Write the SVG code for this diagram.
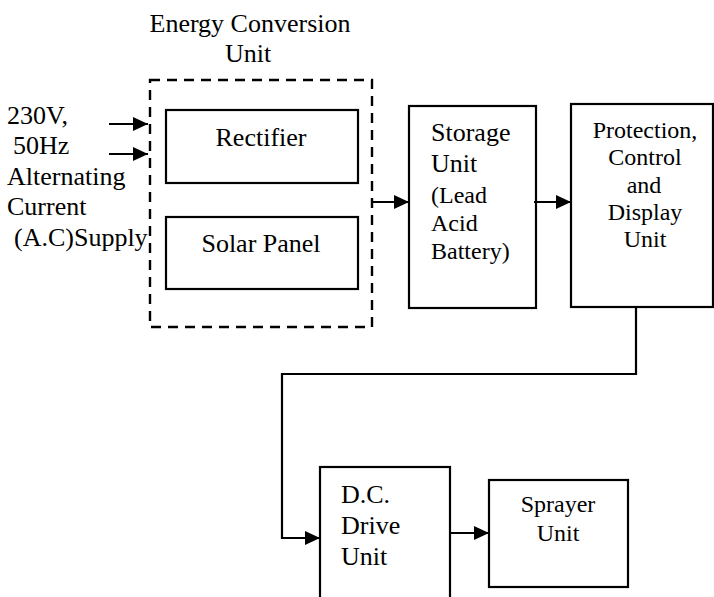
<svg xmlns="http://www.w3.org/2000/svg" width="714" height="597" viewBox="0 0 714 597">
<style>
.box{fill:none;stroke:#000;stroke-width:2.2}
.dash{fill:none;stroke:#000;stroke-width:2.4;stroke-dasharray:10 7}
.t{font-family:"Liberation Serif","Times New Roman",serif;fill:#000}
.l{font-size:26px}
.s{font-size:24px}
.c{text-anchor:middle}
.con{fill:none;stroke:#000;stroke-width:2.2}
</style>
<defs>
<marker id="ah" markerUnits="userSpaceOnUse" markerWidth="15" markerHeight="14" refX="15" refY="7" orient="auto">
<path d="M0,0 L15,7 L0,14 Z" fill="#000"/>
</marker>
</defs>
<rect width="714" height="597" fill="#fff"/>

<g id="input-label">
<text class="t l" x="7" y="124">230V,</text>
<text class="t l" x="13" y="154">50Hz</text>
<text class="t l" x="7" y="185">Alternating</text>
<text class="t l" x="7" y="215">Current</text>
<text class="t l" x="14" y="246">(A.C)Supply</text>
</g>

<g id="energy-conversion-unit">
<text class="t l c" x="250" y="32">Energy Conversion</text>
<text class="t l c" x="248" y="62">Unit</text>
<rect class="dash" x="150" y="80" width="222" height="247"/>
</g>

<g id="rectifier">
<rect class="box" x="166" y="110" width="192" height="73"/>
<text class="t l c" x="261" y="146">Rectifier</text>
</g>

<g id="solar-panel">
<rect class="box" x="166" y="217" width="192" height="72"/>
<text class="t l c" x="261" y="252">Solar Panel</text>
</g>

<g id="storage-unit">
<rect class="box" x="409" y="106" width="127" height="202"/>
<text class="t l" x="431" y="141">Storage</text>
<text class="t l" x="431" y="172">Unit</text>
<text class="t s" x="431" y="203">(Lead</text>
<text class="t s" x="431" y="231">Acid</text>
<text class="t s" x="431" y="259">Battery)</text>
</g>

<g id="protection-unit">
<rect class="box" x="571" y="104" width="142" height="203"/>
<text class="t s c" x="645" y="138">Protection,</text>
<text class="t s c" x="645" y="165">Control</text>
<text class="t s c" x="644" y="193">and</text>
<text class="t s c" x="645" y="220">Display</text>
<text class="t s c" x="645" y="247">Unit</text>
</g>

<g id="dc-drive-unit">
<rect class="box" x="320" y="467" width="130" height="145"/>
<text class="t l" x="341" y="503">D.C.</text>
<text class="t l" x="341" y="534">Drive</text>
<text class="t l" x="341" y="565">Unit</text>
</g>

<g id="sprayer-unit">
<rect class="box" x="489" y="480" width="139" height="107"/>
<text class="t s c" x="558" y="512">Sprayer</text>
<text class="t s c" x="558" y="541">Unit</text>
</g>

<g id="connectors">
<line class="con" x1="109" y1="124" x2="148" y2="124" marker-end="url(#ah)"/>
<line class="con" x1="109" y1="154" x2="148" y2="154" marker-end="url(#ah)"/>
<line class="con" x1="372" y1="202" x2="409" y2="202" marker-end="url(#ah)"/>
<line class="con" x1="534" y1="202" x2="571" y2="202" marker-end="url(#ah)"/>
<path class="con" d="M636,307 V374 H282 V538 H320" marker-end="url(#ah)"/>
<line class="con" x1="450" y1="533" x2="489" y2="533" marker-end="url(#ah)"/>
</g>
</svg>
